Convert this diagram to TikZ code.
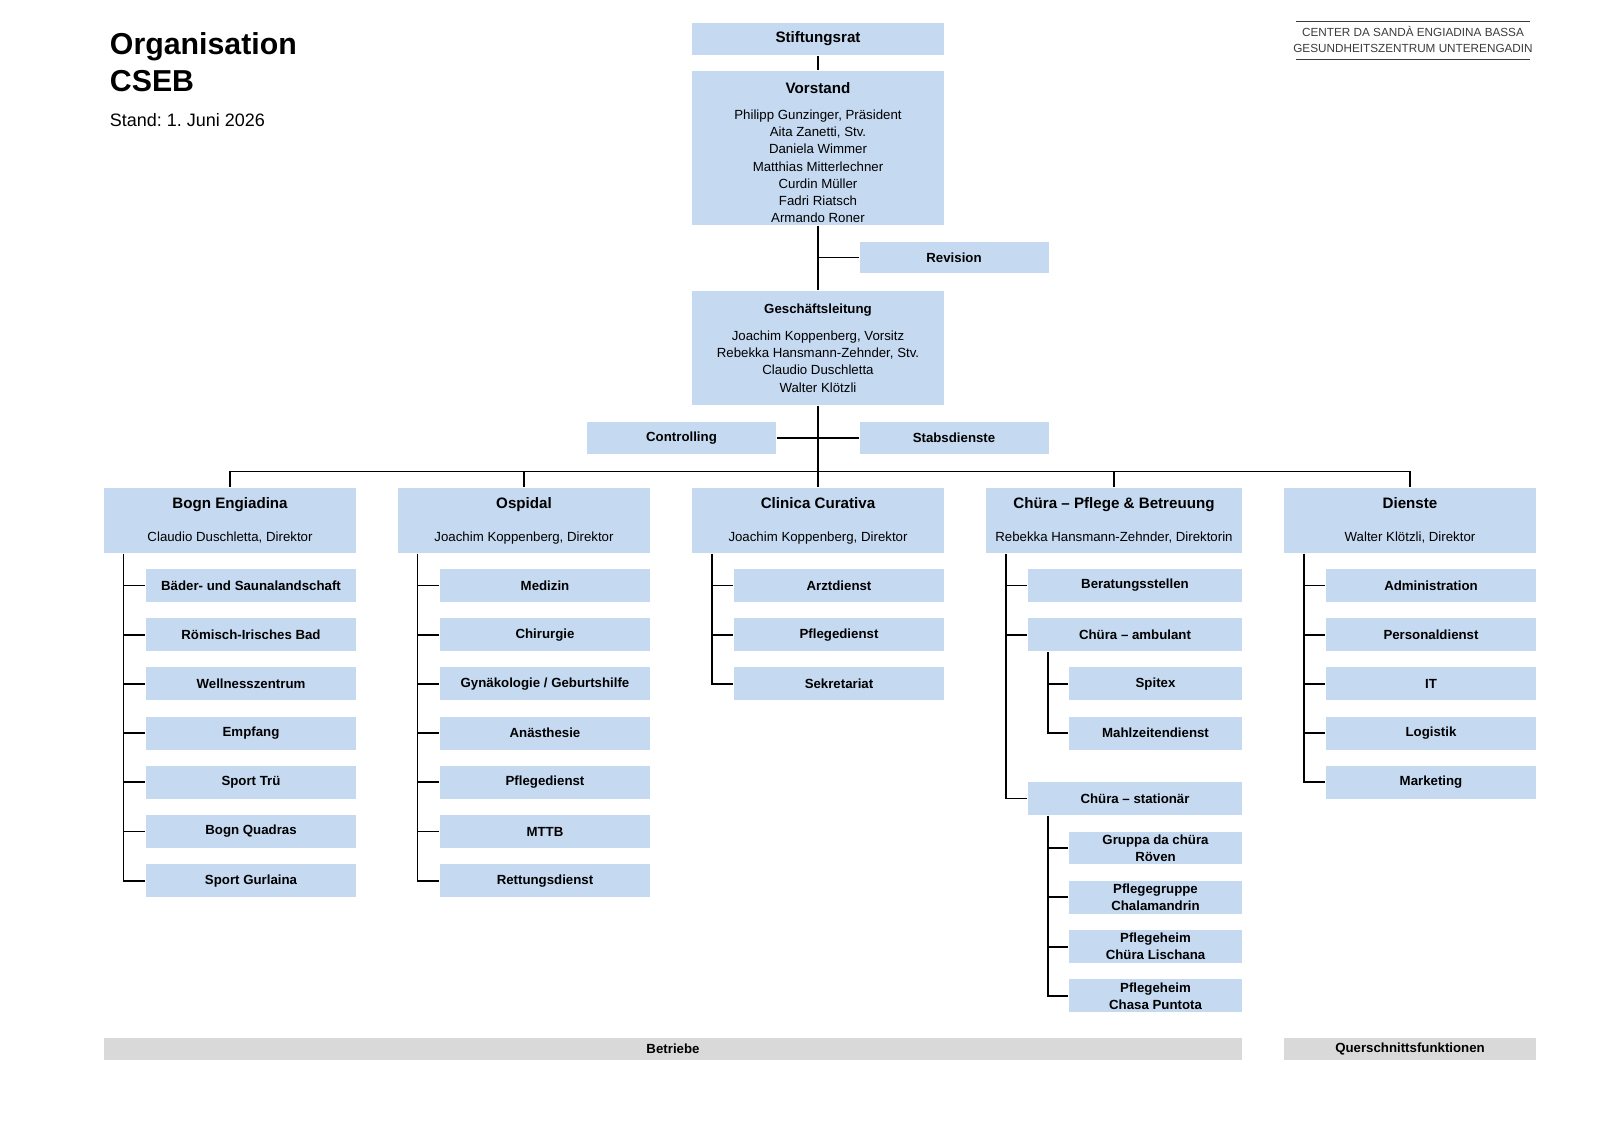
\documentclass[tikz,border=0pt]{standalone}
\usepackage{fontspec}
\setmainfont{Liberation Sans}
\usetikzlibrary{positioning, calc}
\definecolor{boxblue}{RGB}{197,217,241}
\definecolor{bargray}{RGB}{217,217,217}
\definecolor{logogray}{RGB}{60,60,60}
\frenchspacing

\begin{document}
\begin{tikzpicture}[
		x=0.185625mm, y=-0.185625mm, line width=1pt,
		unit/.style={fill=boxblue, inner sep=0pt, align=center, font=\fontsize{7}{9.13}\selectfont},
		head/.style={unit, minimum width=46.78mm},
		staff/.style={unit, font=\fontsize{7}{9.13}\selectfont\bfseries, minimum width=35.08mm, minimum height=5.9mm},
		division/.style={unit, minimum width=46.78mm, minimum height=12.07mm},
		dept/.style={unit, font=\fontsize{7}{9.13}\selectfont\bfseries, minimum width=38.98mm, minimum height=6.1mm},
		subdept/.style={dept, minimum width=32.11mm},
		bar/.style={fill=bargray, inner sep=0pt, minimum height=4.1mm, font=\fontsize{7}{9}\selectfont\bfseries},
		logo/.style={text=logogray, inner sep=0pt, font=\fontsize{6.2}{7}\selectfont}
		]
		
		\fill[white] (0,0) rectangle (1600,1131);
		
		% --- 1. Title and logo ---
		\node[anchor=base west, inner sep=0pt, font=\fontsize{16}{19}\selectfont\bfseries] (title) at (109,55) {Organisation};
		\node[anchor=base west, inner sep=0pt, font=\fontsize{16}{19}\selectfont\bfseries] (cseb) at (109,92) {CSEB};
		\node[anchor=base west, inner sep=0pt, font=\fontsize{9.5}{11}\selectfont] (stand) at (109,127) {Stand: 1. Juni 2026};
		
		\node[logo] (logo1) at (1413,31) {CENTER DA SANDÀ ENGIADINA BASSA};
		\node[logo] (logo2) at (1413,48.5) {GESUNDHEITSZENTRUM UNTERENGADIN};
		\draw[logogray, line width=0.4pt] (1296,21) -- (1530,21) (1296,59) -- (1530,59);
		
		% --- 2. Board and management ---
		\node[head, minimum height=5.94mm, font=\fontsize{8}{9.13}\selectfont\bfseries] (stiftung) at (818,39) {Stiftungsrat};
		\node[head, minimum height=28.59mm] (vorstand) at (818,148) {
			\rule{0pt}{11pt}{\fontsize{8}{9.13}\selectfont\bfseries Vorstand}\\[4.3pt]
			Philipp Gunzinger, Präsident\\
			Aita Zanetti, Stv.\\
			Daniela Wimmer\\
			Matthias Mitterlechner\\
			Curdin Müller\\
			Fadri Riatsch\\
			Armando Roner
		};
		\node[staff] (revision) at (954,257.5) {Revision};
		\node[head, minimum height=21.16mm] (gl) at (818,348) {
			{\bfseries Geschäftsleitung}\\[5pt]
			Joachim Koppenberg, Vorsitz\\
			Rebekka Hansmann-Zehnder, Stv.\\
			Claudio Duschletta\\
			Walter Klötzli
		};
		\node[staff] (controlling) at (681.5,438) {Controlling};
		\node[staff] (stab) at (954,438) {Stabsdienste};
		
		\draw (stiftung) -- (vorstand);
		\draw (vorstand) -- (gl);
		\draw (revision.west) -- (revision.west -| vorstand.south);
		\draw (controlling.east) -- (stab.west);
		
		% --- 3. Divisions ---
		\node[division] (bogn) at (230,520.5) {{\fontsize{8}{9.13}\selectfont\bfseries Bogn Engiadina}\\[8.3pt] Claudio Duschletta, Direktor};
		\node[division] (ospidal) at (524,520.5) {{\fontsize{8}{9.13}\selectfont\bfseries Ospidal}\\[8.3pt] Joachim Koppenberg, Direktor};
		\node[division] (clinica) at (818,520.5) {{\fontsize{8}{9.13}\selectfont\bfseries Clinica Curativa}\\[8.3pt] Joachim Koppenberg, Direktor};
		\node[division, minimum width=47.52mm] (chuera) at (1114,520.5) {{\fontsize{8}{9.13}\selectfont\bfseries Chüra – Pflege \& Betreuung}\\[8.3pt] Rebekka Hansmann-Zehnder, Direktorin};
		\node[division] (dienste) at (1410,520.5) {{\fontsize{8}{9.13}\selectfont\bfseries Dienste}\\[8.3pt] Walter Klötzli, Direktor};
		
		\coordinate (bus) at (818,471.5);
		\draw (gl) -- (clinica);
		\draw (bogn.north) |- (bus) -| (dienste.north);
		\draw (ospidal.north) -- (ospidal.north |- bus);
		\draw (chuera.north) -- (chuera.north |- bus);
		
		% --- 4. Departments ---
		\foreach \name [count=\i] in {Bäder- und Saunalandschaft, Römisch-Irisches Bad, Wellnesszentrum, Empfang, Sport Trü, Bogn Quadras, Sport Gurlaina}{
			\node[dept] (bogn\i) at (251,{585.5+49.2*(\i-1)}) {\name};
			\draw ($(bogn.south west)+(20.5,0)$) |- (bogn\i.west);
		}
		\foreach \name [count=\i] in {Medizin, Chirurgie, Gynäkologie / Geburtshilfe, Anästhesie, Pflegedienst, MTTB, Rettungsdienst}{
			\node[dept] (ospidal\i) at (545,{585.5+49.2*(\i-1)}) {\name};
			\draw ($(ospidal.south west)+(20.5,0)$) |- (ospidal\i.west);
		}
		\foreach \name [count=\i] in {Arztdienst, Pflegedienst, Sekretariat}{
			\node[dept] (clinica\i) at (839,{585.5+49.2*(\i-1)}) {\name};
			\draw ($(clinica.south west)+(20.5,0)$) |- (clinica\i.west);
		}
		\foreach \name [count=\i] in {Administration, Personaldienst, IT, Logistik, Marketing}{
			\node[dept] (dienste\i) at (1431,{585.5+49.2*(\i-1)}) {\name};
			\draw ($(dienste.south west)+(20.5,0)$) |- (dienste\i.west);
		}
		
		% Chüra has two levels
		\node[dept, minimum width=39.72mm] (beratung) at (1135,585.5) {Beratungsstellen};
		\node[dept, minimum width=39.72mm] (ambulant) at (1135,634.7) {Chüra – ambulant};
		\node[subdept] (spitex) at (1155.5,683.9) {Spitex};
		\node[subdept] (mahlzeit) at (1155.5,733.1) {Mahlzeitendienst};
		\node[dept, minimum width=39.72mm] (stationaer) at (1135,798.5) {Chüra – stationär};
		\foreach \name [count=\i] in {{Gruppa da chüra\\Röven}, {Pflegegruppe\\Chalamandrin}, {Pflegeheim\\Chüra Lischana}, {Pflegeheim\\Chasa Puntota}}{
			\node[subdept] (heim\i) at (1155.5,{848+49.3*(\i-1)}) {\name};
			\draw ($(stationaer.south west)+(20.5,0)$) |- (heim\i.west);
		}
		\foreach \n in {beratung, ambulant, stationaer}
			\draw ($(chuera.south west)+(20.5,0)$) |- (\n.west);
		\foreach \n in {spitex, mahlzeit}
			\draw ($(ambulant.south west)+(20.5,0)$) |- (\n.west);
		
		% --- 5. Footer bars ---
		\node[bar, minimum width=211.24mm] (betriebe) at (673,1049) {Betriebe};
		\node[bar, minimum width=46.78mm] (querschnitt) at (1410,1049) {Querschnittsfunktionen};
		
	\end{tikzpicture}
\end{document}
